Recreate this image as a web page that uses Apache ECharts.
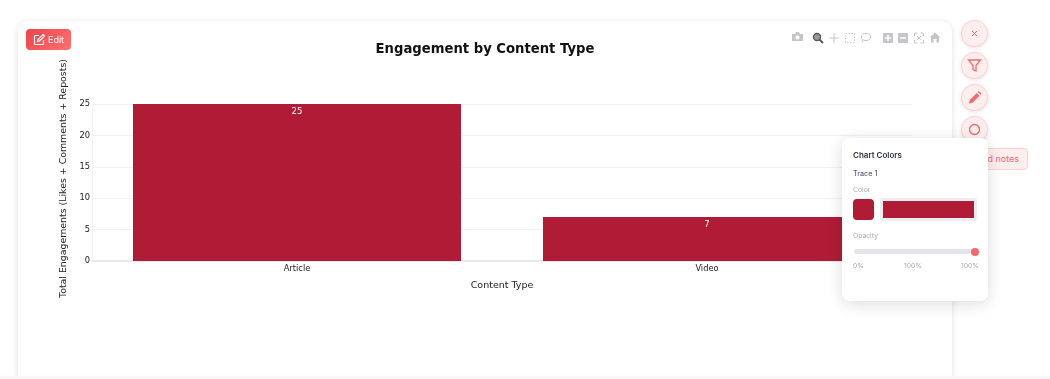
<!DOCTYPE html>
<html>
<head>
<meta charset="utf-8">
<script src="https://cdn.jsdelivr.net/npm/echarts@6/dist/echarts.min.js"></script>
<style>
  html, body { margin: 0; padding: 0; width: 1050px; height: 379px; overflow: hidden; background: #fff; font-family: Inter, "Noto Sans", sans-serif; }
  #strip { position: absolute; left: 0; right: 0; top: 376px; height: 3px; background: #fbf5f6; }
  #card { position: absolute; left: 18px; top: 21px; width: 934px; height: 380px; background: #fff; border-radius: 10px; box-shadow: 0 1px 6px rgba(0,0,0,.13); }
  #chart { position: absolute; left: 0; top: 0; width: 1050px; height: 379px; }
  #edit { position: absolute; left: 26px; top: 29px; width: 45px; height: 21px; border-radius: 4px; background: linear-gradient(135deg, #ee4348, #ff7072); color: #fff; font-size: 9px; line-height: 21px; }
  #edit svg { position: absolute; left: 7px; top: 4px; }
  #edit span { position: absolute; left: 22px; top: 0; }
  #modebar { position: absolute; left: 0; top: 0; }
  .round { position: absolute; left: 961px; width: 25px; height: 25px; border-radius: 50%; background: #ffeeee; border: 1px solid #fcd0d0; box-shadow: 0 1px 4px rgba(0,0,0,.12); }
  .round svg { position: absolute; left: 0; top: 0; }
  #notes { position: absolute; left: 960px; top: 148px; width: 66px; height: 20px; background: #ffeeee; border: 1px solid #fcd0d0; border-radius: 4px; color: #f76b6e; font-size: 9px; line-height: 20px; text-align: right; }
  #notes span { padding-right: 8px; }
  #panel { position: absolute; left: 842px; top: 138px; width: 146px; height: 163px; background: #fff; border-radius: 8px; box-shadow: 0 3px 16px rgba(0,0,0,.14); }
  #panel div { position: absolute; white-space: nowrap; }
  .grey { color: #a4a9b4; font-size: 6.8px; }
</style>
</head>
<body>
<div id="card"></div>
<div id="strip"></div>
<div id="chart"></div>
<div id="edit">
  <svg width="13" height="13" viewBox="0 0 13 13" fill="none" stroke="#fff" stroke-width="1.2"><path d="M6 2.5H2.5a1 1 0 0 0-1 1v7a1 1 0 0 0 1 1h7a1 1 0 0 0 1-1V7"/><path d="M10 1.5l1.5 1.5L6.5 8 4.5 8.5 5 6.500z"/></svg>
  <span>Edit</span>
</div>
<svg id="modebar" width="1050" height="60">
  <g fill="#c4c6cb">
    <path d="M792 34h3l1-2h3l1 2h3v7h-11z"/>
    <circle cx="797.500" cy="37.500" r="2" fill="#fff"/>
    <g transform="translate(834 38)"><path d="M-.5-5h1v4.500h4.500v1H.5v4.500h-1V.5h-4.500v-1h4.500z"/></g>
    <rect x="883" y="33" width="10" height="10" rx="1"/>
    <rect x="898" y="33" width="10" height="10" rx="1"/>
    <path d="M935 32.500l5.500 5h-1.500v5h-2.500v-3.500h-3v3.500h-2.500v-5h-1.500z"/>
  </g>
  <path d="M885 38h6M888 35v6M900 38h6" stroke="#fff" stroke-width="1.500"/>
  <circle cx="817" cy="37" r="3.500" fill="#999" stroke="#555" stroke-width="1.300"/>
  <path d="M819.500 39.500l3.500 3.500" stroke="#555" stroke-width="1.800"/>
  <rect x="845.500" y="33.500" width="9" height="9" fill="none" stroke="#c4c6cb" stroke-dasharray="1.500 1.500"/>
  <ellipse cx="866" cy="37" rx="4.500" ry="3.500" fill="none" stroke="#c4c6cb"/>
  <path d="M863 40l-1 2.500" stroke="#c4c6cb"/>
  <path d="M914.500 36v-3h3M920.500 33h3v3M923.500 40v3h-3M917.500 43h-3v-3M917 36l4 4M921 36l-4 4" fill="none" stroke="#c4c6cb"/>
</svg>
<div class="round" style="top:20px"><svg width="25" height="25"><path d="M10 10l5 5M15 10l-5 5" stroke="#f8696c" stroke-width="1"/></svg></div>
<div class="round" style="top:52px"><svg width="25" height="25"><path d="M6.500 7h12l-4.500 5.500v5.500l-3-1.500v-4z" fill="none" stroke="#f8696c" stroke-width="1.300"/></svg></div>
<div class="round" style="top:84px"><svg width="25" height="25"><path d="M7 18.500l.8-3.500 7-7 2.700 2.700-7 7z M15.800 7l1-1 2.700 2.700-1 1z" fill="#f8696c"/></svg></div>
<div class="round" style="top:116px"><svg width="25" height="25"><circle cx="12.500" cy="12.500" r="5" fill="none" stroke="#f8696c" stroke-width="1.300"/></svg></div>
<div id="notes"><span>Add notes</span></div>
<div id="panel">
  <div style="left:11px;top:12px;font-size:8px;font-weight:600;color:#2b3242">Chart Colors</div>
  <div style="left:11px;top:31px;font-size:7.200px;font-weight:500;color:#596072">Trace 1</div>
  <div class="grey" style="left:11px;top:47px">Color</div>
  <div id="swatch" style="left:11px;top:61px;width:21px;height:21px;border-radius:4px;border:0;"></div>
  <div style="left:38px;top:60px;width:97px;height:23px;background:#eceef1;border-radius:3px"></div>
  <div id="colorbar" style="left:41px;top:63px;width:91px;height:17px"></div>
  <div class="grey" style="left:11px;top:93px">Opacity</div>
  <div style="left:12px;top:111px;width:122px;height:5px;border-radius:3px;background:#e4e5ea"></div>
  <div style="left:129px;top:110px;width:8px;height:8px;border-radius:50%;background:#f9666a"></div>
  <div class="grey" style="left:11px;top:123px">0%</div>
  <div class="grey" style="left:62px;top:123px">100%</div>
  <div class="grey" style="left:119px;top:123px">100%</div>
</div>
<script>
// values
const categories = ['Article', 'Video'];
const engagements = [25, 7];
const yTicks = [0, 5, 10, 15, 20, 25];
const traceColor = '#b01c35';
const chartTitle = 'Engagement by Content Type';
const xTitle = 'Content Type';
const yTitle = 'Total Engagements (Likes + Comments + Reposts)';

document.getElementById('swatch').style.background = traceColor;
document.getElementById('colorbar').style.background = traceColor;

const chart = echarts.init(document.getElementById('chart'), null, { renderer: 'canvas' });
const font = '"DejaVu Sans", sans-serif';
chart.setOption({
  animation: false,
  backgroundColor: 'transparent',
  title: {
    text: chartTitle, left: 480, top: 38, textAlign: 'center',
    textStyle: { fontFamily: font, fontSize: 13.2, fontWeight: 'bold', color: '#111' }
  },
  grid: { left: 92, right: 138, top: 104, height: 157 },
  xAxis: {
    type: 'category', data: categories,
    name: xTitle, nameLocation: 'middle', nameGap: 20,
    nameTextStyle: { fontFamily: font, fontSize: 9.5, color: '#222' },
    axisTick: { show: false },
    axisLine: { lineStyle: { color: '#e6ebf2', width: 2 } },
    axisLabel: { fontFamily: font, fontSize: 8.3, color: '#222', margin: 4 }
  },
  yAxis: {
    type: 'value', min: 0, max: yTicks[yTicks.length - 1], interval: yTicks[1] - yTicks[0],
    name: yTitle, nameLocation: 'middle', nameGap: 20,
    nameTextStyle: { fontFamily: font, fontSize: 9.4, color: '#222', padding: [0, 0, 0, 8] },
    axisTick: { show: false },
    axisLine: { show: true, lineStyle: { color: '#eef1f6' } },
    axisLabel: { fontFamily: font, fontSize: 8.3, color: '#222', margin: 2 },
    splitLine: { lineStyle: { color: '#f0f1f4' } }
  },
  series: [{
    type: 'bar', data: engagements, barWidth: '80%',
    itemStyle: { color: traceColor },
    label: {
      show: true, position: 'insideTop', distance: 3,
      fontFamily: font, fontSize: 8.5, color: '#fff'
    }
  }]
});
</script>
</body>
</html>
